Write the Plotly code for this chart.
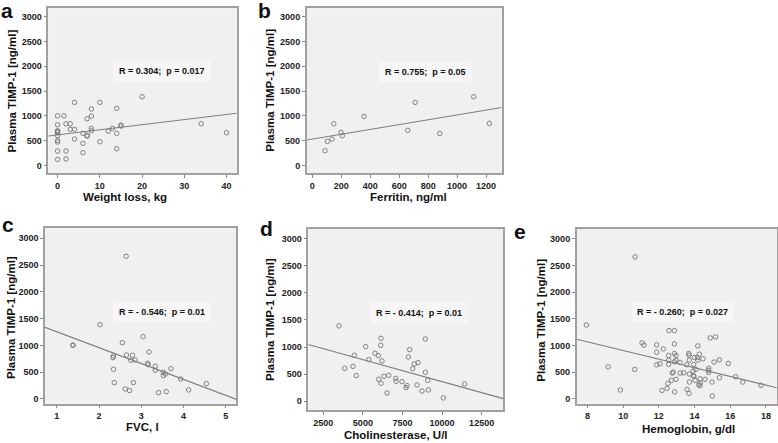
import plotly.graph_objects as go

# ---------------- data ----------------
# a: Weight loss
wl_x = [0, 1.5, 0, 2, 3, 0, 0, 0, 0, 0, 0, 0, 0, 2, 2, 3, 4, 4, 4, 6, 6, 6, 7, 7, 7,
        8, 8, 8, 8, 10, 10, 12, 13, 14, 14, 14, 15, 15, 20, 34, 40]
wl_y = [1000, 1000, 820, 840, 840, 700, 680, 660, 600, 500, 470, 290, 120, 290, 130,
        727, 727, 1272, 531, 646, 444, 254, 941, 606, 592, 1137, 995, 747, 699, 1272,
        477, 693, 747, 1151, 646, 336, 813, 793, 1385, 841, 659]
# b: Ferritin
fe_x = [88, 104, 136, 148, 198, 207, 357, 659, 710, 880, 1115, 1223]
fe_y = [295, 484, 531, 840, 666, 598, 989, 707, 1272, 646, 1385, 848]
# c: FVC
fvc_x = [2.64, 2.02, 1.38, 1.38, 3.04, 2.55, 3.18, 2.65, 2.79, 2.34, 2.33, 2.75, 2.85,
         3.15, 3.16, 3.33, 3.33, 3.52, 3.57, 3.52, 3.70, 3.93, 4.54, 4.12, 2.34, 2.36,
         2.81, 2.62, 2.72, 3.41, 3.59]
fvc_y = [2664, 1387, 1008, 1000, 1163, 1051, 877, 821, 815, 803, 772, 722, 728, 666,
         641, 610, 535, 498, 467, 436, 566, 373, 286, 168, 554, 305, 305, 187, 156, 118, 137]
# d: Cholinesterase
ch_x = [3492, 6145, 8944, 6126, 5178, 7958, 5766, 5974, 4458, 7870, 5368, 6208, 8482,
        8249, 4376, 3852, 8148, 8944, 4585, 6334, 6631, 7074, 7093, 6000, 6145, 7472,
        9095, 8419, 7787, 7724, 9133, 8735, 6524, 10080, 11432]
ch_y = [1389, 1162, 1149, 1033, 1008, 953, 885, 842, 848, 817, 769, 744, 713, 688, 645,
        608, 602, 535, 474, 461, 479, 424, 369, 406, 332, 363, 387, 301, 289, 252, 209,
        190, 153, 62, 319]
# e: Hemoglobin
hb_x = [10.67, 7.94, 11.06, 11.17, 9.16, 10.65, 9.85, 12.57, 12.87, 14.88, 15.18, 11.88,
        12.87, 14.18, 12.25, 11.88, 12.55, 12.87, 12.96, 13.67, 13.69, 14.27, 13.99, 14.16,
        14.47, 14.18, 15.39, 15.09, 15.89, 12.55, 12.87, 12.96, 13.19, 13.70, 11.88, 12.07,
        12.55, 13.56, 13.95, 14.79, 14.79, 14.79, 14.07, 13.92, 12.80, 12.76, 13.19, 13.39,
        13.71, 13.97, 13.93, 16.30, 15.39, 14.31, 14.59, 12.96, 12.70, 13.71, 14.03, 14.32,
        14.31, 14.23, 14.98, 16.70, 17.72, 12.50, 12.46, 12.18, 13.58, 13.69, 12.89, 14.99]
hb_y = [2664, 1387, 1051, 1008, 603, 554, 168, 1282, 1282, 1145, 1163, 1014, 1033, 995,
        939, 877, 815, 853, 815, 853, 821, 840, 778, 778, 753, 728, 734, 691, 666, 728,
        697, 728, 685, 728, 641, 660, 647, 641, 647, 573, 535, 498, 554, 523, 504, 485,
        485, 491, 467, 424, 435, 416, 398, 379, 368, 368, 349, 317, 349, 299, 248, 267,
        317, 317, 256, 293, 200, 162, 181, 106, 131, 56]

# regression lines (intercept, slope)
fit_a = (615, 10.27)
fit_b = (530, 0.489)
fit_c = (1552, -297)
fit_d = (1174, -0.0811)
fit_e = (1720, -81.1)

labels = ["a", "b", "c", "d", "e"]
x_titles = ["Weight loss, kg", "Ferritin, ng/ml", "FVC, l", "Cholinesterase, U/l", "Hemoglobin, g/dl"]
y_title = "Plasma TIMP-1 [ng/ml]"
stats = ["R = 0.304;  p = 0.017", "R = 0.755;  p = 0.05", "R = - 0.546;  p = 0.01",
         "R = - 0.414;  p = 0.01", "R = - 0.260;  p = 0.027"]
y_ticks = [0, 500, 1000, 1500, 2000, 2500, 3000]
x_ticks = [[0, 10, 20, 30, 40], [0, 200, 400, 600, 800, 1000, 1200], [1, 2, 3, 4, 5],
           [2500, 5000, 7500, 10000, 12500], [8, 10, 12, 14, 16, 18]]

# ---------------- layout geometry (pixels) ----------------
W, H = 778, 443
panels = [
    dict(x=(48.3, 236.7), y=(8.3, 173.3), xr=[-2.2, 42.4], yr=[-160, 3170]),
    dict(x=(306.7, 501.7), y=(8.3, 173.3), xr=[-39, 1308], yr=[-160, 3170]),
    dict(x=(45, 236), y=(228.3, 403.5), xr=[0.72, 5.24], yr=[-85, 3187]),
    dict(x=(308.3, 503.3), y=(229, 410), xr=[1553, 13868], yr=[-160, 3175]),
    dict(x=(576.7, 776.7), y=(229, 403.5), xr=[7.40, 18.6], yr=[-85, 3187]),
]
data_sets = [(wl_x, wl_y, fit_a), (fe_x, fe_y, fit_b), (fvc_x, fvc_y, fit_c),
             (ch_x, ch_y, fit_d), (hb_x, hb_y, fit_e)]

# label / title positions (pixels, centers)
lab_pos = [(7, 11), (264, 11), (8, 224), (266, 228), (520, 231)]
ytit_pos = [(11.7, 90.7), (270, 90.7), (11, 318), (270, 320), (540.7, 320)]
xtit_pos = [(125, 197.5), (408, 197.5), (142.3, 426.5), (395.7, 435), (688.3, 428.5)]
stat_pos = [(162, 71), (425.3, 71.7), (162, 312.3), (419, 313.3), (682, 312.3)]

FONT = "Liberation Sans, Arial, sans-serif"
fig = go.Figure()
annotations = []


def px2x(p):
    return p / W


def py2y(p):
    return 1 - p / H


def ann(text, pos, size, **kw):
    return dict(text=text, x=px2x(pos[0]), y=py2y(pos[1]), xref="paper", yref="paper",
                xanchor="center", yanchor="middle", showarrow=False,
                font=dict(family=FONT, size=size, color="#111", weight="bold"), **kw)


for i, (pan, (xs, ys, fit)) in enumerate(zip(panels, data_sets)):
    n = "" if i == 0 else str(i + 1)
    xa, ya = "x" + n, "y" + n
    fig.add_trace(go.Scatter(
        x=xs, y=ys, mode="markers", xaxis=xa, yaxis=ya, showlegend=False,
        marker=dict(symbol="circle-open", size=4.5, color="#757575", line=dict(width=0.9)),
        hoverinfo="x+y"))
    x0, x1 = pan["xr"]
    b0, b1 = fit
    fig.add_trace(go.Scatter(
        x=[x0, x1], y=[b0 + b1 * x0, b0 + b1 * x1], mode="lines", xaxis=xa, yaxis=ya,
        showlegend=False, line=dict(color="#7f7f7f", width=1.1), hoverinfo="skip"))
    axis_common = dict(showline=True, mirror=True, linecolor="#a0a0a0", linewidth=1.5,
                       showgrid=False, zeroline=False, ticks="outside", ticklen=3,
                       tickcolor="#888", tickwidth=1,
                       tickfont=dict(family=FONT, size=9, color="#222", weight="bold"))
    fig.update_layout(**{
        ("xaxis" + n): dict(domain=[px2x(pan["x"][0]), px2x(pan["x"][1])], range=pan["xr"],
                            anchor=ya, tickvals=x_ticks[i],
                            ticktext=[str(v) for v in x_ticks[i]], **axis_common),
        ("yaxis" + n): dict(domain=[py2y(pan["y"][1]), py2y(pan["y"][0])], range=pan["yr"],
                            anchor=xa, tickvals=y_ticks,
                            ticktext=[str(v) for v in y_ticks], **axis_common),
    })
    annotations.append(ann(labels[i], lab_pos[i], 21))
    annotations.append(ann(y_title, ytit_pos[i], 11.5, textangle=-90))
    annotations.append(ann(x_titles[i], xtit_pos[i], 11.5))
    annotations.append(ann(stats[i], stat_pos[i], 9, bgcolor="#f6f6f6", borderpad=5))

fig.update_layout(
    width=W, height=H, margin=dict(l=0, r=0, t=0, b=0),
    paper_bgcolor="white", plot_bgcolor="#f0f0f0",
    annotations=annotations, showlegend=False,
)
fig.write_html("out.html", config={"displayModeBar": False},
               post_script="document.body.style.margin='0';document.body.style.overflow='hidden';")
